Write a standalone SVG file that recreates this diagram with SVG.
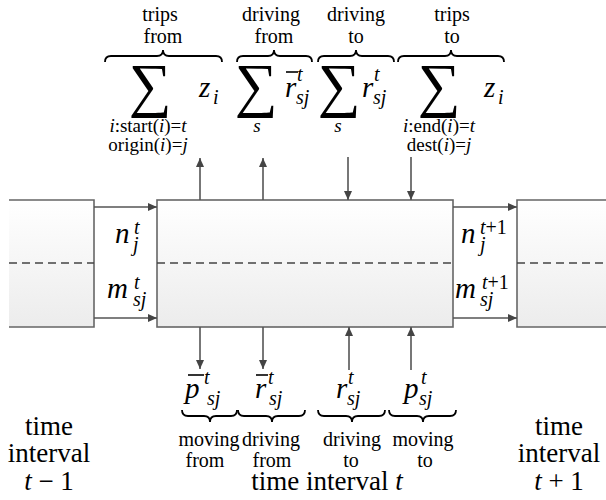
<svg xmlns="http://www.w3.org/2000/svg" width="606" height="500" viewBox="0 0 606 500" font-family="'Liberation Serif', serif">
<defs>
<linearGradient id="boxfill" x1="0" y1="0" x2="0" y2="1">
<stop offset="0" stop-color="#ffffff"/>
<stop offset="1" stop-color="#ececec"/>
</linearGradient>
<marker id="ah" markerUnits="userSpaceOnUse" markerWidth="10" markerHeight="8" refX="9" refY="4" orient="auto">
<path d="M0,0 L9,4 L0,8 z" fill="#444"/>
</marker>
<style>
.box{fill:url(#boxfill);stroke:none}
.edge{fill:none;stroke:#666;stroke-width:1.6}
.dash{stroke:#444;stroke-width:1.3;stroke-dasharray:8,5;fill:none}
.arr{stroke:#555;stroke-width:1.6;fill:none;marker-end:url(#ah)}
.brace{fill:none;stroke:#000;stroke-width:1.8}
.t{font-family:'Liberation Serif',serif;fill:#000}
.lbl{font-size:20px;text-anchor:middle}
.big{font-size:27px;text-anchor:middle}
.mi{font-style:italic;font-size:29px}
.sup{font-style:italic;font-size:20px}
.sub{font-style:italic;font-size:20px}
.supn{font-size:20px;font-style:normal}
.lim{font-size:19px;text-anchor:middle}
.sum{font-size:60px;text-anchor:middle}
.bar{stroke:#000;stroke-width:1.6}
</style>
</defs>

<g id="box-prev">
<rect class="box" x="9" y="200" width="85" height="127"/>
<path class="edge" d="M9,200 H94 V327 H9"/>
<line class="dash" x1="9" y1="263" x2="94" y2="263"/>
</g>
<g id="box-current">
<rect class="box" x="157" y="200" width="296" height="127"/>
<rect class="edge" x="157" y="200" width="296" height="127"/>
<line class="dash" x1="157" y1="263" x2="453" y2="263"/>
</g>
<g id="box-next">
<rect class="box" x="517" y="200" width="95" height="127"/>
<path class="edge" d="M612,200 H517 V327 H612"/>
<line class="dash" x1="517" y1="263" x2="606" y2="263"/>
</g>

<g id="connectors">
<line class="arr" x1="94" y1="207" x2="157" y2="207"/>
<line class="arr" x1="94" y1="318" x2="157" y2="318"/>
<line class="arr" x1="453" y1="207" x2="517" y2="207"/>
<line class="arr" x1="453" y1="318" x2="517" y2="318"/>
<line class="arr" x1="200" y1="200" x2="200" y2="158"/>
<line class="arr" x1="263" y1="200" x2="263" y2="158"/>
<line class="arr" x1="348" y1="157" x2="348" y2="200"/>
<line class="arr" x1="411" y1="157" x2="411" y2="200"/>
<line class="arr" x1="200" y1="327" x2="200" y2="369"/>
<line class="arr" x1="263" y1="327" x2="263" y2="369"/>
<line class="arr" x1="349" y1="370" x2="349" y2="327"/>
<line class="arr" x1="411" y1="370" x2="411" y2="327"/>
</g>

<g id="flow-labels" class="t">
<text class="t mi" x="115" y="243">n</text><text class="t sup" x="134" y="234">t</text><text class="t sub" x="133" y="251">j</text>
<text class="t mi" x="107" y="298">m</text><text class="t sup" x="134" y="289">t</text><text class="t sub" x="133" y="306">sj</text>
<text class="t mi" x="461" y="243">n</text><text class="t" x="480" y="234"><tspan class="sup">t</tspan><tspan class="supn">+1</tspan></text><text class="t sub" x="480" y="251">j</text>
<text class="t mi" x="455" y="298">m</text><text class="t" x="482" y="289"><tspan class="sup">t</tspan><tspan class="supn">+1</tspan></text><text class="t sub" x="480" y="306">sj</text>
</g>

<g id="sum-trips-from" class="t">
<text class="t lbl" x="160" y="21">trips</text><text class="t lbl" x="163" y="43">from</text>
<path class="brace" d="M105,62 Q105,56 111,56 H157 Q163,56 163,50 Q163,56 169,56 H216 Q222,56 222,62"/>
<text class="t sum" x="150" y="105">∑</text>
<text class="t mi" x="199" y="97">z</text><text class="t sub" x="213" y="104">i</text>
<text class="t lim" x="148" y="132"><tspan font-style="italic">i</tspan>:start(<tspan font-style="italic">i</tspan>)=<tspan font-style="italic">t</tspan></text>
<text class="t lim" x="148" y="151">origin(<tspan font-style="italic">i</tspan>)=<tspan font-style="italic">j</tspan></text>
</g>

<g id="sum-driving-from" class="t">
<text class="t lbl" x="271" y="21">driving</text><text class="t lbl" x="274" y="43">from</text>
<path class="brace" d="M237,62 Q237,56 243,56 H268 Q274,56 274,50 Q274,56 280,56 H306 Q312,56 312,62"/>
<text class="t sum" x="256" y="105">∑</text>
<text class="t mi" x="285" y="97">r</text><line class="bar" x1="286" y1="72" x2="298" y2="72"/>
<text class="t sup" x="297" y="81">t</text><text class="t sub" x="296" y="104">sj</text>
<text class="t lim" x="257" y="132" font-style="italic">s</text>
</g>

<g id="sum-driving-to" class="t">
<text class="t lbl" x="356" y="21">driving</text><text class="t lbl" x="356" y="43">to</text>
<path class="brace" d="M318,62 Q318,56 324,56 H350 Q356,56 356,50 Q356,56 362,56 H388 Q394,56 394,62"/>
<text class="t sum" x="339" y="105">∑</text>
<text class="t mi" x="362" y="97">r</text>
<text class="t sup" x="374" y="81">t</text><text class="t sub" x="373" y="104">sj</text>
<text class="t lim" x="338" y="132" font-style="italic">s</text>
</g>

<g id="sum-trips-to" class="t">
<text class="t lbl" x="452" y="21">trips</text><text class="t lbl" x="452" y="43">to</text>
<path class="brace" d="M398,62 Q398,56 404,56 H445 Q451,56 451,50 Q451,56 457,56 H498 Q504,56 504,62"/>
<text class="t sum" x="439" y="105">∑</text>
<text class="t mi" x="484" y="97">z</text><text class="t sub" x="498" y="104">i</text>
<text class="t lim" x="439" y="132"><tspan font-style="italic">i</tspan>:end(<tspan font-style="italic">i</tspan>)=<tspan font-style="italic">t</tspan></text>
<text class="t lim" x="439" y="151">dest(<tspan font-style="italic">i</tspan>)=<tspan font-style="italic">j</tspan></text>
</g>

<g id="bottom-terms" class="t">
<text class="t mi" x="185" y="398">p</text><line class="bar" x1="188" y1="375" x2="204" y2="375"/>
<text class="t sup" x="204" y="384">t</text><text class="t sub" x="207" y="405">sj</text>
<text class="t mi" x="255" y="398">r</text><line class="bar" x1="256" y1="375" x2="268" y2="375"/>
<text class="t sup" x="268" y="384">t</text><text class="t sub" x="269" y="405">sj</text>
<text class="t mi" x="336" y="398">r</text>
<text class="t sup" x="348" y="384">t</text><text class="t sub" x="347" y="405">sj</text>
<text class="t mi" x="404" y="398">p</text>
<text class="t sup" x="421" y="384">t</text><text class="t sub" x="419" y="405">sj</text>

<path class="brace" d="M182,410 Q182,416 188,416 H204 Q210,416 210,422 Q210,416 216,416 H231 Q237,416 237,410"/>
<path class="brace" d="M238,410 Q238,416 244,416 H266 Q272,416 272,422 Q272,416 278,416 H299 Q305,416 305,410"/>
<path class="brace" d="M318,410 Q318,416 324,416 H346 Q352,416 352,422 Q352,416 358,416 H379 Q385,416 385,410"/>
<path class="brace" d="M389,410 Q389,416 395,416 H417 Q423,416 423,422 Q423,416 429,416 H450 Q456,416 456,410"/>

<text class="t lbl" x="209" y="446">moving</text><text class="t lbl" x="205" y="467">from</text>
<text class="t lbl" x="271" y="446">driving</text><text class="t lbl" x="272" y="467">from</text>
<text class="t lbl" x="352" y="446">driving</text><text class="t lbl" x="351" y="467">to</text>
<text class="t lbl" x="423" y="446">moving</text><text class="t lbl" x="425" y="467">to</text>
</g>

<g id="interval-labels" class="t">
<text class="t big" x="49" y="435">time</text>
<text class="t big" x="49" y="462">interval</text>
<text class="t big" x="49" y="490"><tspan font-style="italic">t</tspan> − 1</text>
<text class="t big" x="559" y="435">time</text>
<text class="t big" x="559" y="462">interval</text>
<text class="t big" x="559" y="490"><tspan font-style="italic">t</tspan> + 1</text>
<text class="t big" x="327" y="490">time interval <tspan font-style="italic">t</tspan></text>
</g>
</svg>
